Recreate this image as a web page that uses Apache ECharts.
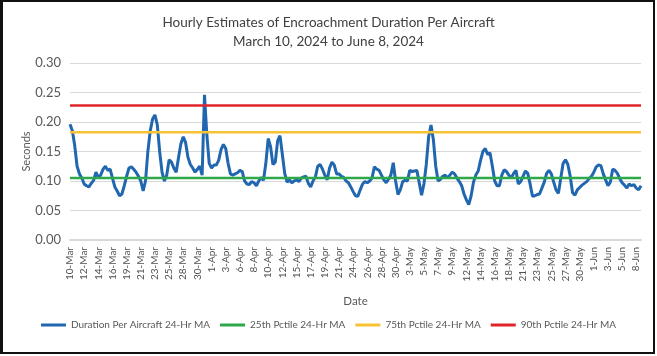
<!DOCTYPE html>
<html>
<head>
<meta charset="utf-8">
<script src="https://cdn.jsdelivr.net/npm/echarts@6/dist/echarts.min.js"></script>
<style>
  html, body { margin: 0; padding: 0; background: #fff; }
  #wrap { position: relative; width: 657px; height: 356px; }
  #chart { position: absolute; left: 0; top: 0; width: 657px; height: 356px; }
  #frame { position: absolute; left: 0; top: 0; width: 655px; height: 354px; box-sizing: border-box;
           border: 2px solid #111; border-left-width: 3px; pointer-events: none; }
</style>
</head>
<body>
<div id="wrap"><div id="chart"></div><div id="frame"></div></div>
<script>
// Tick labels shown every 54 hours (one per 6 samples of 9 hours)
const tickLabels = ['10-Mar','12-Mar','14-Mar','16-Mar','19-Mar','21-Mar','23-Mar','25-Mar','28-Mar','30-Mar',
  '1-Apr','3-Apr','6-Apr','8-Apr','10-Apr','12-Apr','15-Apr','17-Apr','19-Apr','21-Apr',
  '24-Apr','26-Apr','28-Apr','30-Apr','3-May','5-May','7-May','9-May','12-May','14-May',
  '16-May','18-May','21-May','23-May','25-May','27-May','30-May','1-Jun','3-Jun','5-Jun','8-Jun'];

// Duration per aircraft, 24-hr moving average, sampled every 9 hours (seconds)
const durationMA = [
  0.196,0.185,0.160,0.125,0.112,0.105,0.095,0.092,0.090,0.096,
  0.101,0.115,0.106,0.110,0.120,0.125,0.118,0.120,0.105,0.090,
  0.083,0.075,0.078,0.092,0.108,0.122,0.124,0.120,0.115,0.108,
  0.100,0.083,0.100,0.150,0.185,0.205,0.212,0.195,0.150,0.115,
  0.100,0.110,0.136,0.132,0.122,0.115,0.140,0.163,0.175,0.165,
  0.140,0.128,0.122,0.115,0.120,0.125,0.110,0.246,0.178,0.130,
  0.122,0.127,0.127,0.135,0.153,0.162,0.155,0.130,0.112,0.110,
  0.112,0.114,0.118,0.116,0.100,0.095,0.094,0.099,0.097,0.092,
  0.100,0.106,0.101,0.130,0.172,0.158,0.128,0.132,0.168,0.177,
  0.145,0.113,0.098,0.102,0.097,0.100,0.102,0.099,0.105,0.107,
  0.108,0.096,0.090,0.100,0.107,0.125,0.128,0.120,0.110,0.102,
  0.122,0.132,0.127,0.112,0.112,0.108,0.106,0.100,0.097,0.090,
  0.082,0.075,0.074,0.085,0.095,0.099,0.097,0.100,0.105,0.124,
  0.120,0.118,0.110,0.102,0.097,0.103,0.110,0.131,0.100,0.077,
  0.085,0.099,0.101,0.100,0.118,0.116,0.117,0.118,0.097,0.076,
  0.095,0.128,0.175,0.195,0.170,0.125,0.100,0.103,0.108,0.110,
  0.105,0.110,0.115,0.112,0.105,0.099,0.092,0.078,0.068,0.060,
  0.075,0.098,0.110,0.117,0.135,0.150,0.155,0.145,0.148,0.125,
  0.100,0.092,0.092,0.110,0.119,0.116,0.110,0.105,0.113,0.118,
  0.095,0.099,0.108,0.117,0.113,0.095,0.074,0.075,0.077,0.078,
  0.088,0.098,0.113,0.118,0.112,0.098,0.085,0.079,0.105,0.130,
  0.136,0.128,0.108,0.080,0.076,0.085,0.089,0.093,0.096,0.099,
  0.104,0.108,0.115,0.124,0.127,0.126,0.112,0.102,0.092,0.098,
  0.120,0.118,0.113,0.104,0.097,0.093,0.088,0.095,0.092,0.094,
  0.088,0.085,0.092
];

const p25 = 0.105;
const p75 = 0.1825;
const p90 = 0.228;

const seriesNames = ['Duration Per Aircraft 24-Hr MA','25th Pctile 24-Hr MA','75th Pctile 24-Hr MA','90th Pctile 24-Hr MA'];
const colors = ['#2067b0','#2fa84a','#f7c233','#e0242a'];

const categories = durationMA.map((v, i) => (i % 6 === 0 && tickLabels[i / 6]) ? tickLabels[i / 6] : ('h' + i));
const lastIdx = categories.length - 1;
const flat = v => [[0, v], [lastIdx, v]];

const FONT = 'Lato, "Liberation Sans", sans-serif';
const chart = echarts.init(document.getElementById('chart'), null, { renderer: 'canvas' });
chart.setOption({
  animation: false,
  backgroundColor: '#fff',
  title: {
    text: 'Hourly Estimates of Encroachment Duration Per Aircraft\nMarch 10, 2024 to June 8, 2024',
    left: 'center', top: 8,
    textStyle: { fontFamily: FONT, fontSize: 13.5, fontWeight: 'normal', color: '#404040', lineHeight: 19 }
  },
  legend: {
    bottom: 21, left: 'center',
    itemWidth: 25, itemHeight: 3, itemGap: 10, icon: 'rect',
    textStyle: { fontFamily: FONT, fontSize: 10, color: '#595959' },
    data: seriesNames
  },
  grid: { left: 70, right: 16, top: 63, bottom: 116, containLabel: false },
  xAxis: {
    type: 'category', data: categories, boundaryGap: false,
    name: 'Date', nameLocation: 'middle', nameGap: 55,
    nameTextStyle: { fontFamily: FONT, fontSize: 11.5, color: '#595959' },
    axisLine: { lineStyle: { color: '#d9d9d9', width: 2 } },
    axisTick: { show: false },
    axisLabel: { interval: (i) => i % 6 === 0, rotate: 90, margin: 7,
      fontFamily: FONT, fontSize: 10, color: '#505050',
      formatter: (v) => v.charAt(0) === 'h' ? '' : v },
    splitLine: { show: false }
  },
  yAxis: {
    type: 'value', min: 0, max: 0.3, interval: 0.05,
    name: 'Seconds', nameLocation: 'middle', nameGap: 38, nameMoveOverlap: false,
    nameTextStyle: { fontFamily: FONT, fontSize: 11, color: '#595959' },
    axisLine: { show: false }, axisTick: { show: false },
    axisLabel: { formatter: v => v.toFixed(2), margin: 9, fontFamily: FONT, fontSize: 13, color: '#595959' },
    splitLine: { lineStyle: { color: '#d9d9d9', width: 1 } }
  },
  series: [
    { name: seriesNames[0], type: 'line', data: durationMA, symbol: 'none', smooth: false,
      lineStyle: { color: colors[0], width: 3 }, itemStyle: { color: colors[0] } },
    { name: seriesNames[1], type: 'line', data: flat(p25), symbol: 'none',
      lineStyle: { color: colors[1], width: 2.5 }, itemStyle: { color: colors[1] } },
    { name: seriesNames[2], type: 'line', data: flat(p75), symbol: 'none',
      lineStyle: { color: colors[2], width: 2.5 }, itemStyle: { color: colors[2] } },
    { name: seriesNames[3], type: 'line', data: flat(p90), symbol: 'none',
      lineStyle: { color: colors[3], width: 2.5 }, itemStyle: { color: colors[3] } }
  ]
});
</script>
</body>
</html>
